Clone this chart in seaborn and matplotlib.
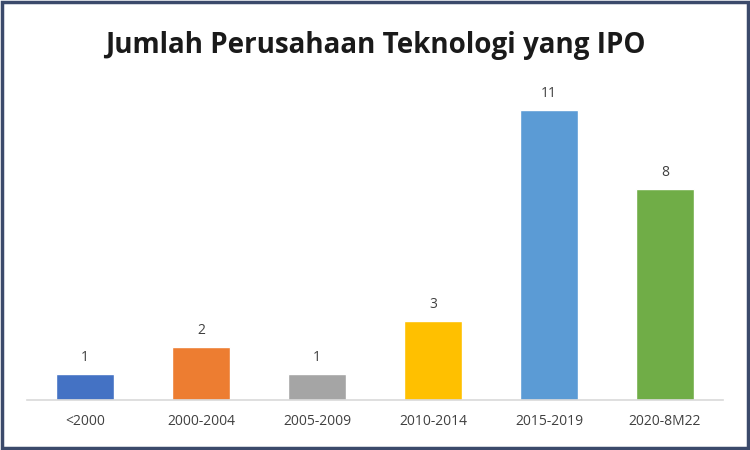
import matplotlib
matplotlib.use("Agg")
import matplotlib.pyplot as plt
import seaborn as sns
import pandas as pd
from matplotlib.patches import Rectangle

categories = ["<2000", "2000-2004", "2005-2009", "2010-2014", "2015-2019", "2020-8M22"]
values = [1, 2, 1, 3, 11, 8]
colors = ["#4472C4", "#ED7D31", "#A5A5A5", "#FFC000", "#5B9BD5", "#70AD47"]
title = "Jumlah Perusahaan Teknologi yang IPO"

sns.set_theme(style="white")
plt.rcParams['font.family'] = ['Open Sans', 'DejaVu Sans']

df = pd.DataFrame({"cat": categories, "val": values})

fig = plt.figure(figsize=(7.5, 4.5), dpi=100)
ax = fig.add_axes([0.036, 0.111, 0.928, 0.702])
sns.barplot(data=df, x="cat", y="val", hue="cat", palette=colors, legend=False,
            width=0.5, ax=ax, saturation=1)
ax.set_ylim(0, 12)
ax.set_xlim(-0.5, len(categories) - 0.5)
for i, v in enumerate(values):
    ax.text(i, v + 0.35, str(v), ha="center", va="bottom", fontsize=10, color="#404040")
ax.set_xlabel("")
ax.set_ylabel("")
ax.set_yticks([])
for s in ["top", "right", "left"]:
    ax.spines[s].set_visible(False)
ax.spines["bottom"].set_color("#D9D9D9")
ax.spines["bottom"].set_linewidth(1.2)
ax.tick_params(axis="x", length=0, pad=10, labelsize=10, labelcolor="#404040")

fig.text(0.5, 0.9, title, ha="center", va="center", fontsize=20, fontweight="bold", color="#1a1a1a")
fig.patches.append(Rectangle((0.003, 0.005), 0.994, 0.99, transform=fig.transFigure,
                             fill=False, edgecolor="#3B4A6B", linewidth=2.5))
fig.savefig("out.png", dpi=100)
